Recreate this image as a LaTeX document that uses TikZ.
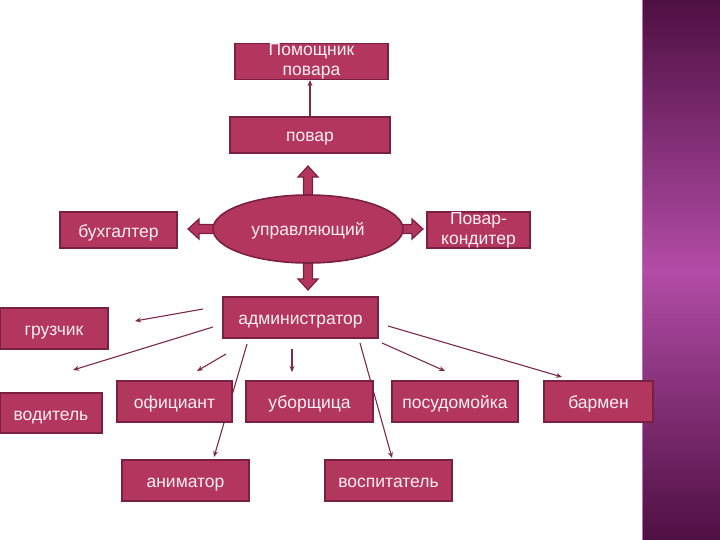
\documentclass[tikz,border=0pt]{standalone}
\usepackage{fontspec}
\setmainfont{Liberation Sans}
\usetikzlibrary{shapes.geometric,arrows.meta}
\definecolor{boxfill}{HTML}{B3365F}
\definecolor{boxline}{HTML}{7A2042}
\definecolor{arrline}{HTML}{7B2A4A}
\definecolor{posttext}{HTML}{FBEFF4}
\definecolor{banddark}{HTML}{4E1042}
\definecolor{bandlight}{HTML}{B24CA6}
\tikzset{
  postbase/.style={draw=boxline, line width=1.6pt, fill=boxfill, text=posttext,
    inner sep=0pt, align=center, font=\fontsize{17.5}{20}\selectfont},
  post/.style={postbase, text height=14pt, text depth=0pt},
  link/.style={draw=arrline, line width=1.1pt, -{Stealth[length=6pt,width=5pt]}},
  barrow/.pic={\draw[boxline, line width=1.2pt, fill=boxfill]
    (0,-4.5) -- (#1-11,-4.5) -- (#1-11,-10) -- (#1,0) -- (#1-11,10)
    -- (#1-11,4.5) -- (0,4.5) -- cycle;}
}
\begin{document}
\begin{tikzpicture}[x=1pt, y=-1pt]
	\useasboundingbox (0,0) rectangle (720,540);
	% --- side band ---
	\shade[top color=banddark, bottom color=banddark, middle color=bandlight] (642,0) rectangle (720,540);
	\draw[bandlight!80!white, line width=1pt] (642.5,0) -- (642.5,540);

	% --- top ---
	\node[postbase, minimum width=153pt, minimum height=35pt] (pomosh) at (311.5,61.5) {Помощник\\повара};
	\node[post, minimum width=160pt, minimum height=36pt] (povar) at (310,135) {повар};
	\draw[link] (povar.north) -- (povar.north |- pomosh.south);

	% --- managing ---
	\pic[rotate=90] at (308,229) {barrow=63};
	\pic[rotate=-90] at (308,229) {barrow=61};
	\pic[rotate=180] at (308,229) {barrow=120};
	\pic at (308,229) {barrow=115};
	\node[post, ellipse, minimum width=190pt, minimum height=68pt] (upr) at (308,229) {управляющий};
	\node[post, minimum width=117pt, minimum height=36pt] (buh) at (118.5,230) {бухгалтер};
	\node[postbase, minimum width=103pt, minimum height=36pt] (konditer) at (478.5,230) {Повар-\\кондитер};

	% --- admin links ---
	\coordinate (l1s) at (203,309); \coordinate (l1e) at (135,321);
	\coordinate (l2s) at (213,327); \coordinate (l2e) at (73,370);
	\coordinate (l3s) at (226,354); \coordinate (l3e) at (197,371);
	\coordinate (l4s) at (292,349); \coordinate (l4e) at (292,372);
	\coordinate (l5s) at (247,344); \coordinate (l5e) at (214,457);
	\coordinate (l6s) at (360,343); \coordinate (l6e) at (392,458);
	\coordinate (l7s) at (382,343); \coordinate (l7e) at (445,371);
	\coordinate (l8s) at (388,326); \coordinate (l8e) at (562,377);
	\draw[link] (l1s) -- (l1e);
	\draw[link] (l2s) -- (l2e);
	\draw[link] (l3s) -- (l3e);
	\draw[link] (l4s) -- (l4e);
	\draw[link] (l5s) -- (l5e);
	\draw[link] (l6s) -- (l6e);
	\draw[link] (l7s) -- (l7e);
	\draw[link] (l8s) -- (l8e);

	% --- staff ---
	\node[post, minimum width=155pt, minimum height=41pt] (adm) at (300.5,317.5) {администратор};
	\node[post, minimum width=108pt, minimum height=41pt] (gruz) at (54,328.5) {грузчик};
	\node[post, minimum width=102pt, minimum height=40pt] (vodit) at (51,413) {водитель};
	\node[post, minimum width=115pt, minimum height=41pt] (ofic) at (174.5,401.5) {официант};
	\node[post, minimum width=127pt, minimum height=41pt] (uborsh) at (309.5,401.5) {уборщица};
	\node[post, minimum width=126pt, minimum height=41pt] (posud) at (455,401.5) {посудомойка};
	\node[post, minimum width=109pt, minimum height=41pt] (barmen) at (598.5,401.5) {бармен};
	\node[post, minimum width=127pt, minimum height=41pt] (anim) at (185.5,480.5) {аниматор};
	\node[post, minimum width=127pt, minimum height=41pt] (vosp) at (388.5,480.5) {воспитатель};
\end{tikzpicture}
\end{document}
